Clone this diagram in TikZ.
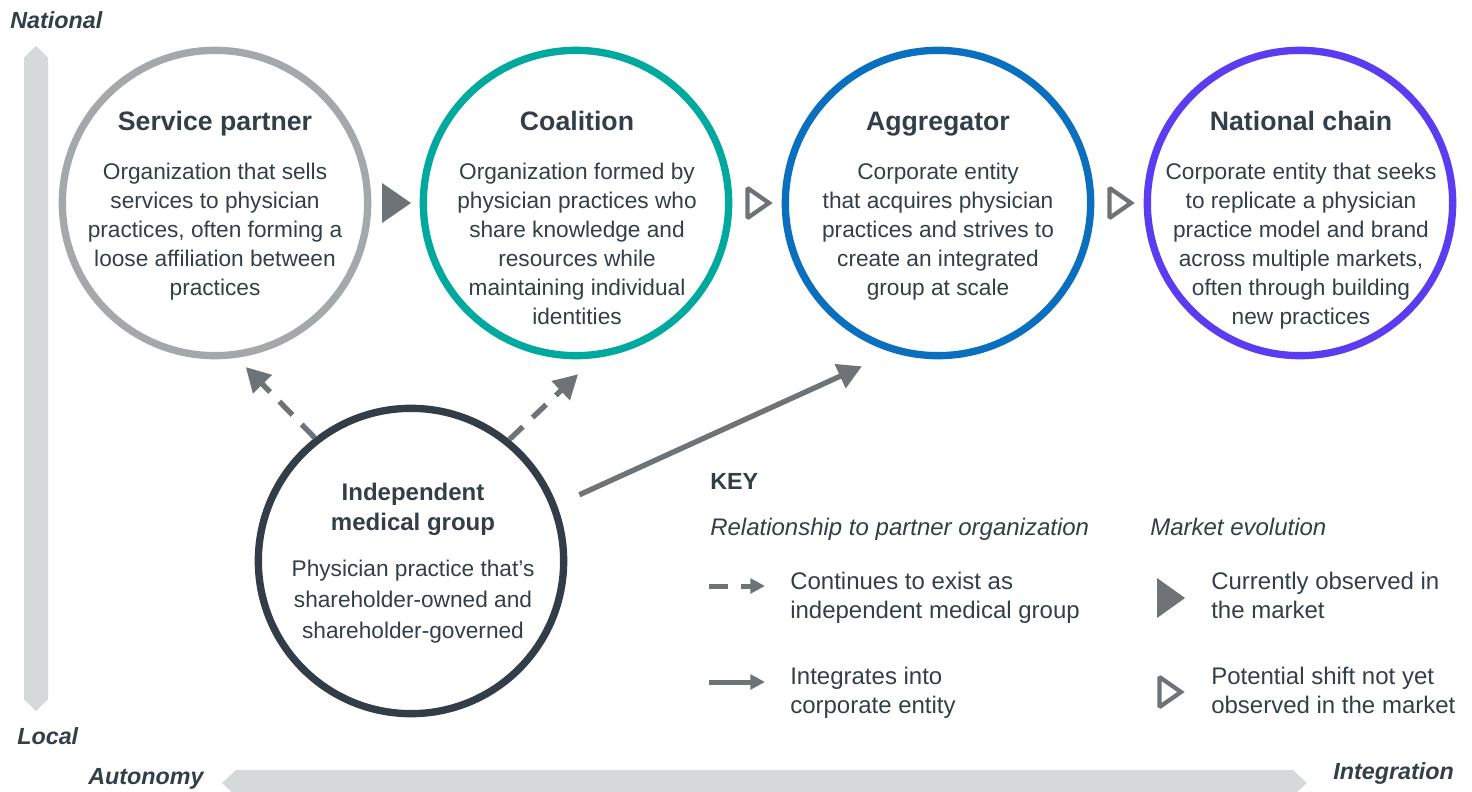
\documentclass[tikz,border=0pt]{standalone}
\usepackage{fontspec}
\setmainfont{Liberation Sans}
\usetikzlibrary{arrows.meta}
\definecolor{ink}{HTML}{333F48}
\definecolor{arrowgray}{HTML}{6E7378}
\definecolor{band}{HTML}{D6D9D9}
\definecolor{ringgray}{HTML}{A5A8AB}
\definecolor{ringteal}{HTML}{00A99D}
\definecolor{ringblue}{HTML}{0A6FBE}
\definecolor{ringpurple}{HTML}{5C3CF0}
\definecolor{ringdark}{HTML}{333D47}
\begin{document}
\begin{tikzpicture}[x=0.75pt,y=-0.75pt,
  ring/.style={circle, draw=#1, line width=5.5pt, minimum size=229pt, inner sep=0pt, fill=white},
  titletext/.style={text=ink, font=\fontsize{20}{22.5}\selectfont\bfseries, align=center, inner sep=0pt},
  bodytext/.style={text=ink, font=\fontsize{17}{21.75}\selectfont, align=center, inner sep=0pt, anchor=north},
  keytext/.style={text=ink, font=\fontsize{18}{21.75}\selectfont, align=left, inner sep=0pt, anchor=north west},
  keyhead/.style={text=ink, font=\fontsize{18}{21.75}\selectfont\itshape, inner sep=0pt, anchor=base west},
  axislabel/.style={text=ink, font=\fontsize{17.5}{20}\selectfont\bfseries\itshape, inner sep=0pt, anchor=base west},
  link/.style={draw=arrowgray, line width=4pt, -{Triangle[length=18pt,width=19pt]}},
  linkdash/.style={link, dash pattern=on 14pt off 10pt},
  keylink/.style={draw=arrowgray, line width=3.75pt, -{Triangle[length=11pt,width=11pt]}},
  keydash/.style={keylink, dash pattern=on 14pt off 10pt},
  solidmark/.style={fill=arrowgray},
  openmark/.style={draw=arrowgray, line width=3.2pt, line join=miter, miter limit=2}
]
\useasboundingbox (0,0) rectangle (1472,792);
\clip (0,0) rectangle (1472,792);

% axis bands
\fill[band] (24,58) -- (36,46) -- (48,58) -- (48,699) -- (36,711) -- (24,699) -- cycle;
\fill[band] (222,783) -- (236,770) -- (1293,770) -- (1307,783) -- (1293,796) -- (236,796) -- cycle;

% axis labels
\node[axislabel] (national) at (10,29) {National};
\node[axislabel] (local) at (17,744) {Local};
\node[axislabel] (autonomy) at (88,784) {Autonomy};
\node[axislabel] (integration) at (1333,779) {Integration};

% organization circles
\node[ring=ringgray] (sp) at (215,203) {};
\node[ring=ringteal] (co) at (576,203) {};
\node[ring=ringblue] (ag) at (938,203) {};
\node[ring=ringpurple] (nc) at (1300,203) {};
\node[ring=ringdark] (img) at (411,561) {};

% titles
\node[titletext, anchor=base] (spT) at (215,131) {Service partner};
\node[titletext, anchor=base] (coT) at (577,131) {Coalition};
\node[titletext, anchor=base] (agT) at (938,131) {Aggregator};
\node[titletext, anchor=base] (ncT) at (1301,131) {National chain};
\node[titletext, anchor=north, font=\fontsize{18}{22.5}\selectfont\bfseries] (imgT) at (413,483) {Independent\\medical group};

% descriptions
\node[bodytext] (spB) at (215,163) {Organization that sells\\services to physician\\practices, often forming a\\loose affiliation between\\practices};
\node[bodytext] (coB) at (577,163) {Organization formed by\\physician practices who\\share knowledge and\\resources while\\maintaining individual\\identities};
\node[bodytext] (agB) at (938,163) {Corporate entity\\that acquires physician\\practices and strives to\\create an integrated\\group at scale};
\node[bodytext] (ncB) at (1301,163) {Corporate entity that seeks\\to replicate a physician\\practice model and brand\\across multiple markets,\\often through building\\new practices};
\node[bodytext, font=\fontsize{17}{23}\selectfont] (imgB) at (413,560) {Physician practice that’s\\shareholder-owned and\\shareholder-governed};

% market evolution markers between circles
\fill[solidmark] (382,183) -- (411,203) -- (382,223) -- cycle;
\draw[openmark] (747.5,188) -- (769,203) -- (747.5,218) -- cycle;
\draw[openmark] (1109.5,188) -- (1131,203) -- (1109.5,218) -- cycle;

% relationships of the independent medical group
\draw[linkdash, shorten >=9.7pt] (img.128.1) -- (sp.-82.97);
\draw[linkdash, shorten >=17.5pt] (img.51.3) -- (co.-83.0);
\draw[link, shorten <=18.5pt, shorten >=25pt] (img.21.1) -- (ag.-107.15);

% key
\node[text=ink, font=\fontsize{17.5}{20}\selectfont\bfseries, inner sep=0pt, anchor=base west] (key) at (710,489) {KEY};
\node[keyhead] (relhead) at (710,535) {Relationship to partner organization};
\node[keyhead] (evohead) at (1150,535) {Market evolution};

\coordinate (kd1) at (709,586);
\coordinate (kd2) at (765,586);
\coordinate (ks1) at (709,682);
\coordinate (ks2) at (765,682);
\draw[keydash] (kd1) -- (kd2);
\draw[keylink] (ks1) -- (ks2);
\node[keytext] (kdT) at (790,572) {Continues to exist as\\independent medical group};
\node[keytext] (ksT) at (790,667) {Integrates into\\corporate entity};

\fill[solidmark] (1157,578) -- (1185,598) -- (1157,618) -- cycle;
\draw[openmark] (1159.5,677) -- (1181,692) -- (1159.5,707) -- cycle;
\node[keytext] (curT) at (1211,572) {Currently observed in\\the market};
\node[keytext] (potT) at (1211,667) {Potential shift not yet\\observed in the market};
\end{tikzpicture}
\end{document}
